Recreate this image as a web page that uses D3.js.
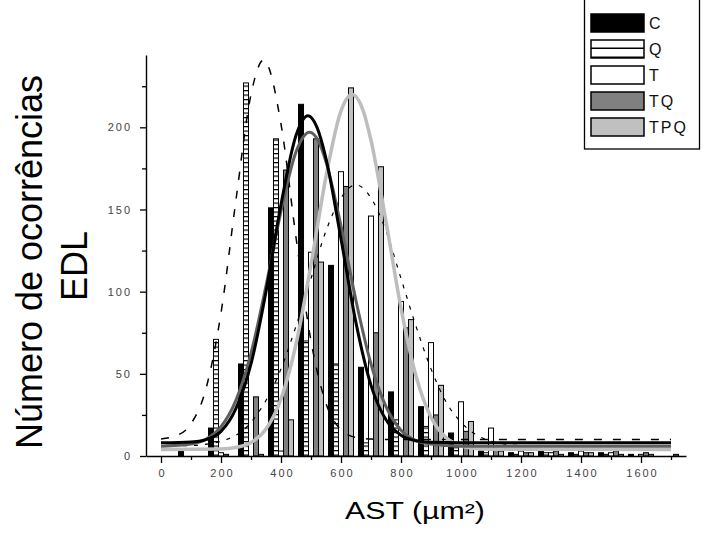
<!DOCTYPE html>
<html>
<head>
<meta charset="utf-8">
<script src="https://cdn.jsdelivr.net/npm/d3@7"></script>
<style>
  body { margin: 0; background: #fff; }
  svg { display: block; }
</style>
</head>
<body>
<div id="chart"></div>
<script>
  // histogram bins (AST, um2) and counts per group
  const bins = [0, 100, 200, 300, 400, 500, 600, 700, 800, 900, 1000, 1100, 1200, 1300, 1400, 1500, 1600, 1700];
  const countsC   = [0, 3, 17, 56, 151, 214, 116, 54, 39, 30, 14, 3, 2, 3, 2, 2, 1, 0];
  const countsQ   = [0, 0, 71, 227, 193, 70, 56, 8, 22, 18, 5, 2, 1, 2, 1, 1, 0, 0];
  const countsT   = [0, 0, 2, 0, 3, 124, 173, 146, 94, 69, 33, 17, 3, 2, 3, 2, 1, 0];
  const countsTQ  = [0, 0, 1, 36, 174, 193, 164, 75, 78, 25, 15, 4, 2, 3, 2, 3, 2, 1];
  const countsTPQ = [0, 0, 0, 1, 22, 118, 224, 176, 83, 43, 21, 3, 2, 1, 2, 1, 1, 0];

  // fitted curves, points [AST, count]
  const fitC = [[0, 8], [100, 8.5], [150, 10], [200, 15], [250, 29], [300, 56], [350, 100], [400, 153],
    [450, 195], [490, 207], [520, 200], [550, 181], [600, 132], [650, 81], [700, 43], [750, 22],
    [800, 12.6], [850, 9.3], [900, 8.3], [1000, 8], [1700, 8]];
  const fitTQ = [[0, 6], [100, 7.3], [150, 10.2], [200, 17.8], [250, 34], [300, 62.5], [350, 103.5],
    [400, 149], [450, 185], [495, 197], [525, 191.5], [550, 179], [600, 140], [650, 94.5], [700, 56],
    [750, 30], [800, 15.7], [850, 9.4], [900, 7.3], [950, 6.4], [1000, 6], [1700, 6]];
  const fitTPQ = [[0, 4], [200, 4.3], [250, 5.2], [300, 8.2], [350, 16.4], [400, 34.7], [450, 68],
    [500, 116.5], [550, 170], [600, 210], [637, 220], [675, 209.5], [700, 192], [750, 142.7],
    [800, 90], [850, 48.7], [900, 23.6], [950, 11.2], [1000, 6.2], [1050, 4.6], [1100, 4.1], [1700, 4]];
  const fitQ = [[0, 10.4], [50, 12.3], [100, 19.6], [150, 41], [200, 87], [250, 156], [300, 220],
    [342, 241], [400, 202], [450, 133], [500, 70], [550, 32], [600, 16], [650, 11.3], [700, 10.3],
    [800, 10], [1700, 10]];
  const fitT = [[0, 6], [100, 6.4], [200, 9], [300, 20.5], [400, 53], [450, 79], [500, 108], [550, 137],
    [600, 157], [650, 165], [700, 157], [750, 137], [800, 108], [850, 79], [900, 53], [950, 33],
    [1000, 20.5], [1050, 13], [1100, 9], [1200, 6.4], [1300, 6], [1700, 6]];

  const groupNames = ["C", "Q", "T", "TQ", "TPQ"];
  const xMajor = [0, 200, 400, 600, 800, 1000, 1200, 1400, 1600];
  const xMinor = [100, 300, 500, 700, 900, 1100, 1300, 1500, 1700];
  const yMajor = [0, 50, 100, 150, 200];
  const yMinor = [25, 75, 125, 175, 225];

  const width = 709, height = 535;

  const svg = d3.select("#chart").append("svg")
    .attr("width", width)
    .attr("height", height)
    .style("font-family", "Arial, 'Liberation Sans', sans-serif");

  const x = d3.scaleLinear().domain([-50, 1750]).range([146, 686]);
  const y = d3.scaleLinear().domain([0, 244]).range([456, 55]);

  // ladder pattern for the Q group
  const defs = svg.append("defs");
  const pat = defs.append("pattern")
    .attr("id", "hatchQ")
    .attr("patternUnits", "userSpaceOnUse")
    .attr("width", 6)
    .attr("height", 4.5);
  pat.append("rect").attr("width", 6).attr("height", 4.5).attr("fill", "#fff");
  pat.append("rect").attr("y", 0).attr("width", 6).attr("height", 1.2).attr("fill", "#000");

  // same hatch but coarser, as it shows in the legend key
  const patL = defs.append("pattern")
    .attr("id", "hatchQLegend")
    .attr("patternUnits", "userSpaceOnUse")
    .attr("patternTransform", "translate(0,40)")
    .attr("width", 6)
    .attr("height", 9);
  patL.append("rect").attr("width", 6).attr("height", 9).attr("fill", "#fff");
  patL.append("rect").attr("y", 7.5).attr("width", 6).attr("height", 1.5).attr("fill", "#000");

  const fills = ["#000000", "url(#hatchQ)", "#ffffff", "#808080", "#c0c0c0"];
  const legendFills = ["#000000", "url(#hatchQLegend)", "#ffffff", "#808080", "#c0c0c0"];
  const groups = [countsC, countsQ, countsT, countsTQ, countsTPQ];

  // bars, five per bin side by side
  const barW = 16.7;
  const offsets = [-33.3, -16.7, 0, 16.7, 33.3];

  groups.forEach(function(values, i) {
    const pts = bins.map(function(b, j) { return { c: b + offsets[i], v: values[j] }; })
      .filter(function(d) { return d.v > 0; });
    svg.append("g").selectAll("rect")
      .data(pts)
      .enter()
      .append("rect")
      .attr("x", function(d) { return x(d.c - barW / 2); })
      .attr("width", function(d) { return x(d.c + barW / 2) - x(d.c - barW / 2); })
      .attr("y", function(d) { return y(d.v); })
      .attr("height", function(d) { return y(0) - y(d.v); })
      .attr("fill", fills[i])
      .attr("stroke", "#000")
      .attr("stroke-width", 1);
  });

  // fitted curves
  const line = d3.line()
    .x(function(d) { return x(d[0]); })
    .y(function(d) { return y(d[1]); })
    .curve(d3.curveMonotoneX);

  const curves = [
    { data: fitT, color: "#000", w: 1.2, dash: "4,7" },
    { data: fitQ, color: "#000", w: 1.5, dash: "8,11" },
    { data: fitTPQ, color: "#bdbdbd", w: 3.5, dash: null },
    { data: fitTQ, color: "#5f5f5f", w: 3, dash: null },
    { data: fitC, color: "#000", w: 3, dash: null }
  ];
  curves.forEach(function(c) {
    svg.append("path")
      .attr("d", line(c.data))
      .attr("fill", "none")
      .attr("stroke", c.color)
      .attr("stroke-width", c.w)
      .attr("stroke-dasharray", c.dash);
  });

  // axes
  const xAxisG = svg.append("g").attr("transform", "translate(0," + y(0) + ")");
  xAxisG.call(d3.axisBottom(x).tickValues(xMajor).tickSize(7).tickSizeOuter(0).tickFormat(d3.format("d")));
  xAxisG.append("g").call(d3.axisBottom(x).tickValues(xMinor).tickSize(4).tickSizeOuter(0).tickFormat(""))
    .select(".domain").remove();

  const yAxisG = svg.append("g").attr("transform", "translate(" + x(-50) + ",0)");
  yAxisG.call(d3.axisLeft(y).tickValues(yMajor).tickSize(6).tickSizeOuter(0).tickFormat(d3.format("d")));
  yAxisG.append("g").call(d3.axisLeft(y).tickValues(yMinor).tickSize(4).tickSizeOuter(0).tickFormat(""))
    .select(".domain").remove();

  svg.selectAll(".domain").attr("stroke", "#000").attr("stroke-width", 1.4);
  svg.selectAll(".tick line").attr("stroke", "#000").attr("stroke-width", 1.3);

  xAxisG.selectAll(".tick text")
    .attr("y", 13)
    .attr("dx", "1px")
    .attr("font-size", 11)
    .attr("letter-spacing", "2px")
    .attr("fill", "#444");

  yAxisG.selectAll(".tick text")
    .attr("x", -14)
    .attr("font-size", 11)
    .attr("letter-spacing", "2px")
    .attr("fill", "#444");

  // axis titles
  svg.append("text")
    .attr("transform", "translate(42,262) rotate(-90)")
    .attr("text-anchor", "middle")
    .attr("font-size", 36)
    .attr("fill", "#000")
    .text("Número de ocorrências");
  svg.append("text")
    .attr("transform", "translate(87,266) rotate(-90)")
    .attr("text-anchor", "middle")
    .attr("font-size", 36)
    .attr("fill", "#000")
    .text("EDL");

  svg.append("text")
    .attr("x", 345)
    .attr("y", 519)
    .attr("font-size", 23)
    .attr("textLength", 140)
    .attr("lengthAdjust", "spacingAndGlyphs")
    .attr("fill", "#000")
    .text("AST (µm²)");

  // legend
  const legend = svg.append("g");
  legend.append("rect")
    .attr("x", 584.5).attr("y", -2)
    .attr("width", 115).attr("height", 151)
    .attr("fill", "#fff")
    .attr("stroke", "#000")
    .attr("stroke-width", 1.3);

  groupNames.forEach(function(name, i) {
    const sy = 14 + i * 26;
    legend.append("rect")
      .attr("x", 591).attr("y", sy)
      .attr("width", 53).attr("height", 18)
      .attr("fill", legendFills[i])
      .attr("stroke", "#000")
      .attr("stroke-width", 1.5);
    legend.append("text")
      .attr("x", 649).attr("y", sy + 15)
      .attr("font-size", 16)
      .attr("letter-spacing", "2px")
      .attr("fill", "#111")
      .text(name);
  });
</script>
</body>
</html>
